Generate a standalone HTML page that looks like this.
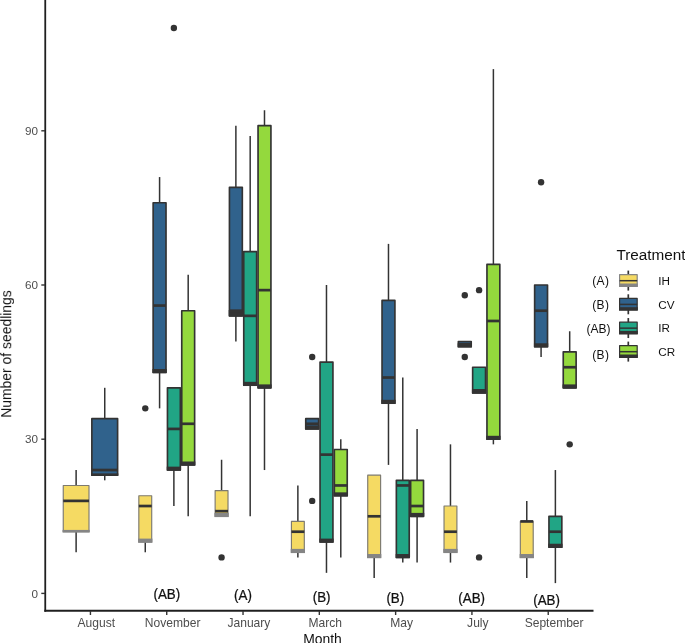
<!DOCTYPE html>
<html><head><meta charset="utf-8"><title>Chart</title>
<style>
html,body{margin:0;padding:0;background:#fff;}
body{width:685px;height:643px;overflow:hidden;}
svg{display:block;font-family:"Liberation Sans",sans-serif;}
.tk{font-size:12.05px;fill:#4d4d4d;}
.ti{font-size:13.9px;fill:#111;}
.an{font-size:14.4px;fill:#111;stroke:#111;stroke-width:0.25px;}
.lt{font-size:15.3px;fill:#111;}
.lk{font-size:11.7px;fill:#111;}
.la{font-size:12px;fill:#111;}
</style></head><body>
<svg width="685" height="643" viewBox="0 0 685 643">
<rect width="685" height="643" fill="#fff"/>
<g>
<line x1="76.12" y1="470.04" x2="76.12" y2="485.46" stroke="#333333" stroke-width="1.5"/>
<line x1="76.12" y1="531.72" x2="76.12" y2="552.28" stroke="#333333" stroke-width="1.5"/>
<rect x="63.25" y="485.46" width="25.75" height="46.26" fill="#F5DA63" stroke="#7d7a70" stroke-width="1.15" stroke-linejoin="round"/>
<rect x="62.55" y="529.92" width="27.15" height="2.60" fill="#858585"/>
<line x1="63.25" y1="500.88" x2="89.00" y2="500.88" stroke="#333333" stroke-width="2.7"/>
<line x1="104.74" y1="387.80" x2="104.74" y2="418.64" stroke="#333333" stroke-width="1.5"/>
<line x1="104.74" y1="475.18" x2="104.74" y2="480.32" stroke="#333333" stroke-width="1.5"/>
<rect x="91.86" y="418.64" width="25.75" height="56.54" fill="#30628C" stroke="#333333" stroke-width="1.65" stroke-linejoin="round"/>
<rect x="91.16" y="473.38" width="27.15" height="2.60" fill="#333333"/>
<line x1="91.86" y1="470.04" x2="117.61" y2="470.04" stroke="#333333" stroke-width="2.7"/>
<line x1="145.27" y1="542.00" x2="145.27" y2="552.28" stroke="#333333" stroke-width="1.5"/>
<rect x="138.83" y="495.74" width="12.88" height="46.26" fill="#F5DA63" stroke="#7d7a70" stroke-width="1.15" stroke-linejoin="round"/>
<rect x="138.13" y="538.60" width="14.28" height="4.20" fill="#858585"/>
<line x1="138.83" y1="506.02" x2="151.71" y2="506.02" stroke="#333333" stroke-width="2.7"/>
<circle cx="145.27" cy="408.36" r="3.2" fill="#333333"/>
<line x1="159.58" y1="177.06" x2="159.58" y2="202.76" stroke="#333333" stroke-width="1.5"/>
<line x1="159.58" y1="372.38" x2="159.58" y2="408.36" stroke="#333333" stroke-width="1.5"/>
<rect x="153.14" y="202.76" width="12.88" height="169.62" fill="#30628C" stroke="#333333" stroke-width="1.65" stroke-linejoin="round"/>
<rect x="152.44" y="368.98" width="14.28" height="4.20" fill="#333333"/>
<line x1="153.14" y1="305.56" x2="166.01" y2="305.56" stroke="#333333" stroke-width="2.7"/>
<line x1="173.88" y1="470.04" x2="173.88" y2="506.02" stroke="#333333" stroke-width="1.5"/>
<rect x="167.45" y="387.80" width="12.88" height="82.24" fill="#21A585" stroke="#333333" stroke-width="1.65" stroke-linejoin="round"/>
<rect x="166.75" y="466.64" width="14.28" height="4.20" fill="#333333"/>
<line x1="167.45" y1="428.92" x2="180.32" y2="428.92" stroke="#333333" stroke-width="2.7"/>
<circle cx="173.88" cy="28.00" r="3.2" fill="#333333"/>
<line x1="188.19" y1="274.72" x2="188.19" y2="310.70" stroke="#333333" stroke-width="1.5"/>
<line x1="188.19" y1="464.90" x2="188.19" y2="516.30" stroke="#333333" stroke-width="1.5"/>
<rect x="181.75" y="310.70" width="12.88" height="154.20" fill="#94D93D" stroke="#333333" stroke-width="1.65" stroke-linejoin="round"/>
<rect x="181.05" y="461.50" width="14.28" height="4.20" fill="#333333"/>
<line x1="181.75" y1="423.78" x2="194.63" y2="423.78" stroke="#333333" stroke-width="2.7"/>
<line x1="221.57" y1="459.76" x2="221.57" y2="490.60" stroke="#333333" stroke-width="1.5"/>
<rect x="215.13" y="490.60" width="12.88" height="25.70" fill="#F5DA63" stroke="#7d7a70" stroke-width="1.15" stroke-linejoin="round"/>
<rect x="214.43" y="512.90" width="14.28" height="4.20" fill="#858585"/>
<line x1="215.13" y1="511.16" x2="228.01" y2="511.16" stroke="#333333" stroke-width="2.7"/>
<circle cx="221.57" cy="557.42" r="3.2" fill="#333333"/>
<line x1="235.88" y1="125.66" x2="235.88" y2="187.34" stroke="#333333" stroke-width="1.5"/>
<line x1="235.88" y1="315.84" x2="235.88" y2="341.54" stroke="#333333" stroke-width="1.5"/>
<rect x="229.44" y="187.34" width="12.88" height="128.50" fill="#30628C" stroke="#333333" stroke-width="1.65" stroke-linejoin="round"/>
<rect x="228.74" y="310.04" width="14.28" height="6.60" fill="#333333"/>
<line x1="229.44" y1="310.70" x2="242.31" y2="310.70" stroke="#333333" stroke-width="2.7"/>
<line x1="250.18" y1="135.94" x2="250.18" y2="251.59" stroke="#333333" stroke-width="1.5"/>
<line x1="250.18" y1="385.23" x2="250.18" y2="516.30" stroke="#333333" stroke-width="1.5"/>
<rect x="243.75" y="251.59" width="12.88" height="133.64" fill="#21A585" stroke="#333333" stroke-width="1.65" stroke-linejoin="round"/>
<rect x="243.05" y="381.83" width="14.28" height="4.20" fill="#333333"/>
<line x1="243.75" y1="315.84" x2="256.62" y2="315.84" stroke="#333333" stroke-width="2.7"/>
<line x1="264.49" y1="110.24" x2="264.49" y2="125.66" stroke="#333333" stroke-width="1.5"/>
<line x1="264.49" y1="387.80" x2="264.49" y2="470.04" stroke="#333333" stroke-width="1.5"/>
<rect x="258.05" y="125.66" width="12.88" height="262.14" fill="#94D93D" stroke="#333333" stroke-width="1.65" stroke-linejoin="round"/>
<rect x="257.35" y="384.40" width="14.28" height="4.20" fill="#333333"/>
<line x1="258.05" y1="290.14" x2="270.93" y2="290.14" stroke="#333333" stroke-width="2.7"/>
<line x1="297.87" y1="485.46" x2="297.87" y2="521.44" stroke="#333333" stroke-width="1.5"/>
<line x1="297.87" y1="552.28" x2="297.87" y2="557.42" stroke="#333333" stroke-width="1.5"/>
<rect x="291.43" y="521.44" width="12.88" height="30.84" fill="#F5DA63" stroke="#7d7a70" stroke-width="1.15" stroke-linejoin="round"/>
<rect x="290.73" y="548.88" width="14.28" height="4.20" fill="#858585"/>
<line x1="291.43" y1="531.72" x2="304.31" y2="531.72" stroke="#333333" stroke-width="2.7"/>
<rect x="305.74" y="418.64" width="12.88" height="10.28" fill="#30628C" stroke="#333333" stroke-width="1.65" stroke-linejoin="round"/>
<rect x="305.04" y="425.52" width="14.28" height="4.20" fill="#333333"/>
<line x1="305.74" y1="423.78" x2="318.61" y2="423.78" stroke="#333333" stroke-width="2.7"/>
<circle cx="312.18" cy="356.96" r="3.2" fill="#333333"/>
<circle cx="312.18" cy="500.88" r="3.2" fill="#333333"/>
<line x1="326.48" y1="285.00" x2="326.48" y2="362.10" stroke="#333333" stroke-width="1.5"/>
<line x1="326.48" y1="542.00" x2="326.48" y2="572.84" stroke="#333333" stroke-width="1.5"/>
<rect x="320.05" y="362.10" width="12.88" height="179.90" fill="#21A585" stroke="#333333" stroke-width="1.65" stroke-linejoin="round"/>
<rect x="319.35" y="538.60" width="14.28" height="4.20" fill="#333333"/>
<line x1="320.05" y1="454.62" x2="332.92" y2="454.62" stroke="#333333" stroke-width="2.7"/>
<line x1="340.79" y1="439.20" x2="340.79" y2="449.48" stroke="#333333" stroke-width="1.5"/>
<line x1="340.79" y1="495.74" x2="340.79" y2="557.42" stroke="#333333" stroke-width="1.5"/>
<rect x="334.35" y="449.48" width="12.88" height="46.26" fill="#94D93D" stroke="#333333" stroke-width="1.65" stroke-linejoin="round"/>
<rect x="333.65" y="492.34" width="14.28" height="4.20" fill="#333333"/>
<line x1="334.35" y1="485.46" x2="347.23" y2="485.46" stroke="#333333" stroke-width="2.7"/>
<line x1="374.17" y1="557.42" x2="374.17" y2="577.98" stroke="#333333" stroke-width="1.5"/>
<rect x="367.73" y="475.18" width="12.88" height="82.24" fill="#F5DA63" stroke="#7d7a70" stroke-width="1.15" stroke-linejoin="round"/>
<rect x="367.03" y="554.02" width="14.28" height="4.20" fill="#858585"/>
<line x1="367.73" y1="516.30" x2="380.61" y2="516.30" stroke="#333333" stroke-width="2.7"/>
<line x1="388.48" y1="243.88" x2="388.48" y2="300.42" stroke="#333333" stroke-width="1.5"/>
<line x1="388.48" y1="403.22" x2="388.48" y2="464.90" stroke="#333333" stroke-width="1.5"/>
<rect x="382.04" y="300.42" width="12.88" height="102.80" fill="#30628C" stroke="#333333" stroke-width="1.65" stroke-linejoin="round"/>
<rect x="381.34" y="399.82" width="14.28" height="4.20" fill="#333333"/>
<line x1="382.04" y1="377.52" x2="394.91" y2="377.52" stroke="#333333" stroke-width="2.7"/>
<line x1="402.78" y1="377.52" x2="402.78" y2="480.32" stroke="#333333" stroke-width="1.5"/>
<line x1="402.78" y1="557.42" x2="402.78" y2="562.56" stroke="#333333" stroke-width="1.5"/>
<rect x="396.35" y="480.32" width="12.88" height="77.10" fill="#21A585" stroke="#333333" stroke-width="1.65" stroke-linejoin="round"/>
<rect x="395.65" y="554.02" width="14.28" height="4.20" fill="#333333"/>
<line x1="396.35" y1="485.46" x2="409.22" y2="485.46" stroke="#333333" stroke-width="2.7"/>
<line x1="417.09" y1="428.92" x2="417.09" y2="480.32" stroke="#333333" stroke-width="1.5"/>
<line x1="417.09" y1="516.30" x2="417.09" y2="562.56" stroke="#333333" stroke-width="1.5"/>
<rect x="410.65" y="480.32" width="12.88" height="35.98" fill="#94D93D" stroke="#333333" stroke-width="1.65" stroke-linejoin="round"/>
<rect x="409.95" y="512.90" width="14.28" height="4.20" fill="#333333"/>
<line x1="410.65" y1="506.02" x2="423.53" y2="506.02" stroke="#333333" stroke-width="2.7"/>
<line x1="450.47" y1="444.34" x2="450.47" y2="506.02" stroke="#333333" stroke-width="1.5"/>
<line x1="450.47" y1="552.28" x2="450.47" y2="562.56" stroke="#333333" stroke-width="1.5"/>
<rect x="444.03" y="506.02" width="12.88" height="46.26" fill="#F5DA63" stroke="#7d7a70" stroke-width="1.15" stroke-linejoin="round"/>
<rect x="443.33" y="548.88" width="14.28" height="4.20" fill="#858585"/>
<line x1="444.03" y1="531.72" x2="456.91" y2="531.72" stroke="#333333" stroke-width="2.7"/>
<rect x="458.34" y="341.54" width="12.88" height="5.14" fill="#30628C" stroke="#333333" stroke-width="1.65" stroke-linejoin="round"/>
<rect x="457.64" y="343.28" width="14.28" height="4.20" fill="#333333"/>
<line x1="458.34" y1="344.11" x2="471.21" y2="344.11" stroke="#333333" stroke-width="2.7"/>
<circle cx="464.78" cy="295.28" r="3.2" fill="#333333"/>
<circle cx="464.78" cy="356.96" r="3.2" fill="#333333"/>
<rect x="472.65" y="367.24" width="12.88" height="25.70" fill="#21A585" stroke="#333333" stroke-width="1.65" stroke-linejoin="round"/>
<rect x="471.95" y="389.54" width="14.28" height="4.20" fill="#333333"/>
<line x1="472.65" y1="390.37" x2="485.52" y2="390.37" stroke="#333333" stroke-width="2.7"/>
<circle cx="479.08" cy="290.14" r="3.2" fill="#333333"/>
<circle cx="479.08" cy="557.42" r="3.2" fill="#333333"/>
<line x1="493.39" y1="69.12" x2="493.39" y2="264.44" stroke="#333333" stroke-width="1.5"/>
<line x1="493.39" y1="439.20" x2="493.39" y2="444.34" stroke="#333333" stroke-width="1.5"/>
<rect x="486.95" y="264.44" width="12.88" height="174.76" fill="#94D93D" stroke="#333333" stroke-width="1.65" stroke-linejoin="round"/>
<rect x="486.25" y="435.80" width="14.28" height="4.20" fill="#333333"/>
<line x1="486.95" y1="320.98" x2="499.83" y2="320.98" stroke="#333333" stroke-width="2.7"/>
<line x1="526.77" y1="500.88" x2="526.77" y2="521.44" stroke="#333333" stroke-width="1.5"/>
<line x1="526.77" y1="557.42" x2="526.77" y2="577.98" stroke="#333333" stroke-width="1.5"/>
<rect x="520.33" y="521.44" width="12.88" height="35.98" fill="#F5DA63" stroke="#7d7a70" stroke-width="1.15" stroke-linejoin="round"/>
<rect x="519.63" y="554.02" width="14.28" height="4.20" fill="#858585"/>
<line x1="520.33" y1="521.44" x2="533.21" y2="521.44" stroke="#333333" stroke-width="2.7"/>
<line x1="541.08" y1="346.68" x2="541.08" y2="356.96" stroke="#333333" stroke-width="1.5"/>
<rect x="534.64" y="285.00" width="12.88" height="61.68" fill="#30628C" stroke="#333333" stroke-width="1.65" stroke-linejoin="round"/>
<rect x="533.94" y="343.28" width="14.28" height="4.20" fill="#333333"/>
<line x1="534.64" y1="310.70" x2="547.51" y2="310.70" stroke="#333333" stroke-width="2.7"/>
<circle cx="541.08" cy="182.20" r="3.2" fill="#333333"/>
<line x1="555.38" y1="470.04" x2="555.38" y2="516.30" stroke="#333333" stroke-width="1.5"/>
<line x1="555.38" y1="547.14" x2="555.38" y2="583.12" stroke="#333333" stroke-width="1.5"/>
<rect x="548.95" y="516.30" width="12.88" height="30.84" fill="#21A585" stroke="#333333" stroke-width="1.65" stroke-linejoin="round"/>
<rect x="548.25" y="543.74" width="14.28" height="4.20" fill="#333333"/>
<line x1="548.95" y1="531.72" x2="561.82" y2="531.72" stroke="#333333" stroke-width="2.7"/>
<line x1="569.69" y1="331.26" x2="569.69" y2="351.82" stroke="#333333" stroke-width="1.5"/>
<rect x="563.25" y="351.82" width="12.88" height="35.98" fill="#94D93D" stroke="#333333" stroke-width="1.65" stroke-linejoin="round"/>
<rect x="562.55" y="384.40" width="14.28" height="4.20" fill="#333333"/>
<line x1="563.25" y1="367.24" x2="576.13" y2="367.24" stroke="#333333" stroke-width="2.7"/>
<circle cx="569.69" cy="444.34" r="3.2" fill="#333333"/>
</g>
<g>
<line x1="45.25" y1="0" x2="45.25" y2="611.8" stroke="#1f1f1f" stroke-width="1.8"/>
<line x1="44.35" y1="610.8" x2="593.5" y2="610.8" stroke="#1f1f1f" stroke-width="2"/>
<line x1="41.3" y1="593.40" x2="45" y2="593.40" stroke="#333" stroke-width="1.4"/>
<line x1="41.3" y1="439.20" x2="45" y2="439.20" stroke="#333" stroke-width="1.4"/>
<line x1="41.3" y1="285.00" x2="45" y2="285.00" stroke="#333" stroke-width="1.4"/>
<line x1="41.3" y1="130.80" x2="45" y2="130.80" stroke="#333" stroke-width="1.4"/>
<line x1="90.43" y1="611" x2="90.43" y2="615" stroke="#333" stroke-width="1.4"/>
<line x1="166.73" y1="611" x2="166.73" y2="615" stroke="#333" stroke-width="1.4"/>
<line x1="243.03" y1="611" x2="243.03" y2="615" stroke="#333" stroke-width="1.4"/>
<line x1="319.33" y1="611" x2="319.33" y2="615" stroke="#333" stroke-width="1.4"/>
<line x1="395.63" y1="611" x2="395.63" y2="615" stroke="#333" stroke-width="1.4"/>
<line x1="471.93" y1="611" x2="471.93" y2="615" stroke="#333" stroke-width="1.4"/>
<line x1="548.23" y1="611" x2="548.23" y2="615" stroke="#333" stroke-width="1.4"/>
<line x1="628.3" y1="270.60" x2="628.3" y2="290.60" stroke="#333333" stroke-width="1.7"/>
<rect x="619.6" y="274.70" width="17.6" height="11.6" fill="#F5DA63" stroke="#858585" stroke-width="1.2" stroke-linejoin="round"/>
<rect x="619" y="283.50" width="18.8" height="3.4" fill="#858585"/>
<line x1="619.6" y1="280.70" x2="637.2" y2="280.70" stroke="#333333" stroke-width="1.5"/>
<line x1="628.3" y1="294.30" x2="628.3" y2="314.30" stroke="#333333" stroke-width="1.7"/>
<rect x="619.6" y="298.40" width="17.6" height="11.6" fill="#30628C" stroke="#333333" stroke-width="1.2" stroke-linejoin="round"/>
<rect x="619" y="307.20" width="18.8" height="3.4" fill="#333333"/>
<line x1="619.6" y1="304.40" x2="637.2" y2="304.40" stroke="#333333" stroke-width="1.5"/>
<line x1="628.3" y1="318.05" x2="628.3" y2="338.05" stroke="#333333" stroke-width="1.7"/>
<rect x="619.6" y="322.15" width="17.6" height="11.6" fill="#21A585" stroke="#333333" stroke-width="1.2" stroke-linejoin="round"/>
<rect x="619" y="330.95" width="18.8" height="3.4" fill="#333333"/>
<line x1="619.6" y1="328.15" x2="637.2" y2="328.15" stroke="#333333" stroke-width="1.5"/>
<line x1="628.3" y1="341.60" x2="628.3" y2="361.60" stroke="#333333" stroke-width="1.7"/>
<rect x="619.6" y="345.70" width="17.6" height="11.6" fill="#94D93D" stroke="#333333" stroke-width="1.2" stroke-linejoin="round"/>
<rect x="619" y="354.50" width="18.8" height="3.4" fill="#333333"/>
<line x1="619.6" y1="351.70" x2="637.2" y2="351.70" stroke="#333333" stroke-width="1.5"/>
</g>
<g style="filter:grayscale(1)">
<text x="38" y="597.60" text-anchor="end" class="tk" style="font-size:11.7px">0</text>
<text x="38" y="443.40" text-anchor="end" class="tk" style="font-size:11.7px">30</text>
<text x="38" y="289.20" text-anchor="end" class="tk" style="font-size:11.7px">60</text>
<text x="38" y="135.00" text-anchor="end" class="tk" style="font-size:11.7px">90</text>
<text x="96.33" y="626.9" text-anchor="middle" class="tk">August</text>
<text x="172.63" y="626.9" text-anchor="middle" class="tk">November</text>
<text x="248.93" y="626.9" text-anchor="middle" class="tk">January</text>
<text x="325.23" y="626.9" text-anchor="middle" class="tk">March</text>
<text x="401.53" y="626.9" text-anchor="middle" class="tk">May</text>
<text x="477.83" y="626.9" text-anchor="middle" class="tk">July</text>
<text x="554.13" y="626.9" text-anchor="middle" class="tk">September</text>
<text x="322.5" y="643.5" text-anchor="middle" class="ti">Month</text>
<text transform="translate(11.2,354) rotate(-90)" text-anchor="middle" class="ti">Number of seedlings</text>
<text transform="translate(166.8,598.90) scale(0.93,1)" text-anchor="middle" class="an">(AB)</text>
<text transform="translate(243.0,600.25) scale(0.93,1)" text-anchor="middle" class="an">(A)</text>
<text transform="translate(321.6,602.00) scale(0.93,1)" text-anchor="middle" class="an">(B)</text>
<text transform="translate(395.3,603.00) scale(0.93,1)" text-anchor="middle" class="an">(B)</text>
<text transform="translate(471.7,603.30) scale(0.93,1)" text-anchor="middle" class="an">(AB)</text>
<text transform="translate(546.6,605.10) scale(0.93,1)" text-anchor="middle" class="an">(AB)</text>
<text x="616.4" y="260" class="lt">Treatment</text>
<text x="658.3" y="284.80" class="lk">IH</text>
<text x="609.4" y="284.90" text-anchor="end" class="la" style="letter-spacing:0.4px">(A)</text>
<text x="658.3" y="308.50" class="lk">CV</text>
<text x="609.4" y="308.60" text-anchor="end" class="la" style="letter-spacing:0.4px">(B)</text>
<text x="658.3" y="332.25" class="lk">IR</text>
<text x="610.4" y="332.65" text-anchor="end" class="la">(AB)</text>
<text x="658.3" y="355.80" class="lk">CR</text>
<text x="609.4" y="358.70" text-anchor="end" class="la" style="letter-spacing:0.4px">(B)</text>
</g>
</svg>
</body></html>
